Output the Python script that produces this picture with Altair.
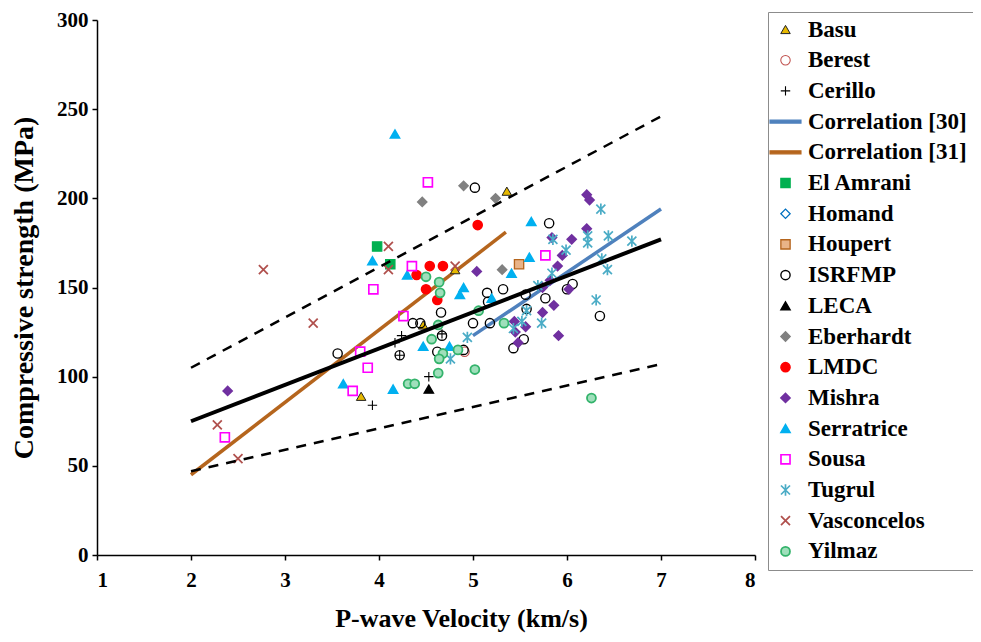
import altair as alt
import pandas as pd

# ---------------- data ----------------
series_order = ["Basu", "Berest", "Cerillo", "Correlation [30]", "Correlation [31]",
                "El Amrani", "Homand", "Houpert", "ISRFMP", "LECA", "Eberhardt",
                "LMDC", "Mishra", "Serratrice", "Sousa", "Tugrul", "Vasconcelos", "Yilmaz"]

basu_x = [3.81, 4.47, 4.81, 5.36]
basu_y = [89, 129, 160, 204]

berest_x = [4.91]
berest_y = [114]

cerillo_x = [3.93, 4.17, 4.24, 4.22, 4.53, 4.67]
cerillo_y = [84, 119, 123, 112, 100, 124]

elamrani_x = [3.98, 4.12]
elamrani_y = [173, 163]

homand_x = []
homand_y = []

houpert_x = [5.49]
houpert_y = [163]

isrfmp_x = [3.56, 4.36, 4.44, 4.66, 4.67, 4.62, 4.90, 5.00, 5.18, 5.02, 5.15, 5.16,
            5.32, 5.56, 5.57, 5.77, 5.54, 5.43, 5.81, 6.00, 6.06, 6.35, 4.22]
isrfmp_y = [113, 130, 130, 136, 123, 114, 115, 130, 130, 206, 147, 142,
            149, 146, 138, 144, 121, 116, 186, 149, 152, 134, 112]

leca_x = [4.53]
leca_y = [93]

eberhardt_x = [4.46, 4.90, 5.24, 5.31]
eberhardt_y = [198, 207, 200, 160]

lmdc_x = [4.54, 4.68, 4.40, 4.50, 4.62, 5.05]
lmdc_y = [162, 162, 157, 149, 143, 185]

mishra_x = [2.39, 5.04, 5.84, 6.05, 5.95, 5.90, 5.82, 5.74, 5.86, 5.74, 5.56, 5.44,
            5.45, 5.91, 6.02, 5.48, 6.21, 6.24, 6.21]
mishra_y = [92, 159, 178, 177, 168, 162, 154, 150, 140, 136, 128, 131,
            125, 123, 149, 119, 202, 199, 183]

serratrice_x = [4.17, 3.93, 3.62, 4.15, 4.30, 4.90, 4.86, 5.20, 5.60, 5.62, 4.47, 4.75, 5.41]
serratrice_y = [236, 165, 96, 93, 157, 150, 146, 144, 167, 187, 117, 117, 158]

sousa_x = [2.36, 3.72, 3.80, 3.88, 3.94, 4.26, 4.35, 4.52, 5.77]
sousa_y = [66, 92, 114, 105, 149, 134, 162, 209, 168]

tugrul_x = [4.94, 4.76, 5.85, 6.22, 6.22, 6.44, 6.69, 5.99, 6.37, 6.43, 5.84, 5.69,
            6.31, 5.57, 5.73, 5.52, 5.43, 6.36]
tugrul_y = [122, 110, 177, 179, 175, 179, 176, 171, 166, 160, 158, 151,
            143, 137, 130, 131, 127, 194]

vasconcelos_x = [2.28, 2.50, 2.77, 3.30, 4.10, 4.10, 4.81]
vasconcelos_y = [73, 54, 160, 130, 173, 160, 162]

yilmaz_x = [6.26, 4.50, 4.64, 4.65, 5.06, 4.63, 5.33, 4.56, 4.84, 4.68, 4.64, 4.63,
            5.02, 4.31, 4.38]
yilmaz_y = [88, 156, 153, 147, 137, 129, 130, 121, 115, 113, 110, 102,
            104, 96, 96]

# lines (end points)
corr30_x = [5.0, 7.0]
corr30_y = [123, 194]
corr31_x = [2.0, 5.35]
corr31_y = [45, 181]
fit_x = [2.0, 7.0]
fit_y = [75, 177]
upper_x = [2.0, 7.0]
upper_y = [105, 246]
lower_x = [2.0, 7.0]
lower_y = [47, 107]

# ---------------- styles per legend entry ----------------
LINE_SYM = "M-3.3,-0.32H3.3V0.32H-3.3Z"
shapes = ["triangle-up", "circle", "M-1,0H1M0,-1V1", LINE_SYM, LINE_SYM,
          "square", "diamond", "square", "circle", "triangle-up", "diamond",
          "circle", "diamond", "triangle-up", "square",
          "M-1,-1L1,1M-1,1L1,-1M0,-1.25V1.25", "M-1,-1L1,1M-1,1L1,-1", "circle"]
fills = ["#e6b800", "transparent", "transparent", "#4f81bd", "#b5651d",
         "#00b050", "transparent", "#e9b488", "transparent", "#000000", "#808080",
         "#ff0000", "#7030a0", "#00b0f0", "transparent",
         "transparent", "transparent", "#9fdfbb"]
strokes = ["#222222", "#c0504d", "#000000", "#4f81bd", "#b5651d",
           "#00b050", "#0070c0", "#b5651d", "#000000", "#000000", "#808080",
           "#ff0000", "#7030a0", "#00b0f0", "#ff00ff",
           "#4bacc6", "#b0504d", "#33b36b"]
sizes = [90, 80, 80, 100, 100, 80, 80, 90, 100, 100, 100,
         130, 90, 120, 95, 100, 90, 100]
stroke_widths = [1, 1.8, 1.6, 0.5, 0.5, 1, 1.8, 1.5, 2, 1, 1,
                 1, 1, 1, 2, 1.6, 1.8, 1.8]

pts = {
    "Basu": (basu_x, basu_y), "Berest": (berest_x, berest_y),
    "Cerillo": (cerillo_x, cerillo_y), "El Amrani": (elamrani_x, elamrani_y),
    "Homand": (homand_x, homand_y), "Houpert": (houpert_x, houpert_y),
    "ISRFMP": (isrfmp_x, isrfmp_y), "LECA": (leca_x, leca_y),
    "Eberhardt": (eberhardt_x, eberhardt_y), "LMDC": (lmdc_x, lmdc_y),
    "Mishra": (mishra_x, mishra_y), "Serratrice": (serratrice_x, serratrice_y),
    "Sousa": (sousa_x, sousa_y), "Tugrul": (tugrul_x, tugrul_y),
    "Vasconcelos": (vasconcelos_x, vasconcelos_y), "Yilmaz": (yilmaz_x, yilmaz_y),
}
rows = []
for name in series_order:
    if name in pts:
        xs, ys = pts[name]
        for a, b in zip(xs, ys):
            rows.append({"series": name, "v": a, "s": b})
df_pts = pd.DataFrame(rows)

FONT = "Liberation Serif"

xscale = alt.Scale(domain=[1, 8], nice=False, zero=False)
yscale = alt.Scale(domain=[0, 300], nice=False)

xenc = alt.X("v:Q", scale=xscale,
             axis=alt.Axis(title="P-wave Velocity (km/s)", values=list(range(1, 9)),
                           format="d", labelPadding=9, titlePadding=15, titleX=364,
                           labelFont=FONT, titleFont=FONT, titleFontSize=26))
yenc = alt.Y("s:Q", scale=yscale,
             axis=alt.Axis(title="Compressive strength (MPa)", values=list(range(0, 301, 50)),
                           format="d", labelPadding=4, titlePadding=18,
                           labelFont=FONT, titleFont=FONT, titleFontSize=28))

leg = alt.Legend(title=None)

points = alt.Chart(df_pts).mark_point(opacity=1, filled=False).encode(
    x=xenc,
    y=yenc,
    shape=alt.Shape("series:N", scale=alt.Scale(domain=series_order, range=shapes), legend=leg),
    fill=alt.Fill("series:N", scale=alt.Scale(domain=series_order, range=fills), legend=leg),
    stroke=alt.Stroke("series:N", scale=alt.Scale(domain=series_order, range=strokes), legend=leg),
    size=alt.Size("series:N", scale=alt.Scale(domain=series_order, range=sizes), legend=leg),
    strokeWidth=alt.StrokeWidth("series:N", scale=alt.Scale(domain=series_order, range=stroke_widths), legend=leg),
)


def line_layer(xs, ys, color, width, dash=None):
    d = pd.DataFrame({"v": xs, "s": ys})
    kw = dict(color=color, strokeWidth=width, strokeCap="butt")
    if dash:
        kw["strokeDash"] = dash
    return alt.Chart(d).mark_line(**kw).encode(x=alt.X("v:Q", scale=xscale), y=alt.Y("s:Q", scale=yscale))


l30 = line_layer(corr30_x, corr30_y, "#4f81bd", 3.5)
l31 = line_layer(corr31_x, corr31_y, "#b5651d", 3.5)
lfit = line_layer(fit_x, fit_y, "#000000", 4)
lup = line_layer(upper_x, upper_y, "#000000", 2.5, [10, 8])
llo = line_layer(lower_x, lower_y, "#000000", 2.5, [10, 8])

chart = alt.layer(l30, l31, points, lfit, lup, llo).properties(
    width=658, height=535,
    autosize=alt.AutoSizeParams(type="none"),
    padding={"left": 89, "top": 12, "right": 218, "bottom": 79},
    background="white",
).configure(font=FONT).configure_view(stroke=None).configure_axis(
    grid=False,
    domainColor="#000000", domainWidth=1.5,
    tickColor="#000000", tickSize=5, tickWidth=1.5,
    labelFont=FONT, labelFontSize=21, labelFontWeight="bold", labelColor="#000000",
    titleFont=FONT, titleFontWeight="bold", titleColor="#000000",
).configure_legend(
    orient="none", legendX=671, legendY=-8,
    strokeColor="#8c8c8c", fillColor="white", padding=6,
    labelFont=FONT, labelFontSize=23, labelFontWeight="bold", labelColor="#000000",
    labelOffset=11, rowPadding=6.7, labelLimit=300,
)

chart.save("out.html", embed_options={"renderer": "svg", "actions": False})
